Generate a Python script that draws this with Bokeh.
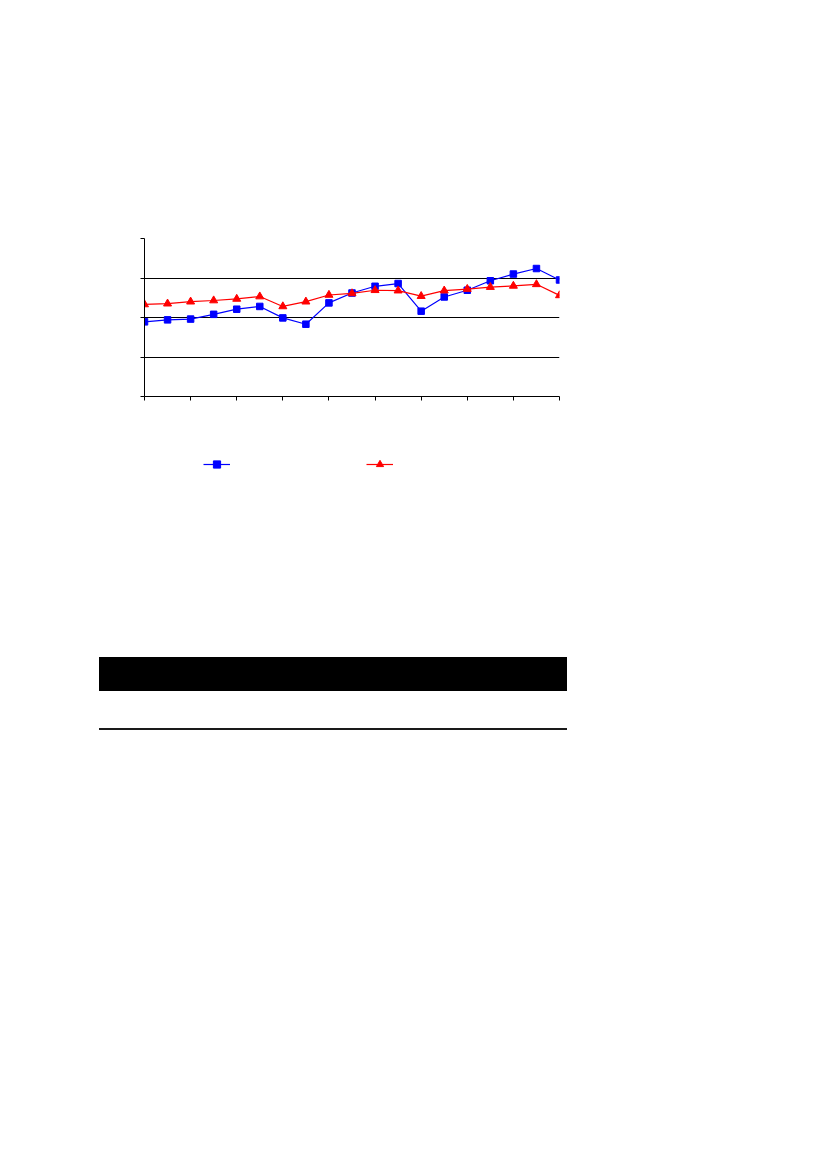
from bokeh.plotting import figure
from bokeh.models import FixedTicker, Legend, LegendItem, Div
from bokeh.layouts import column
from bokeh.embed import file_html
from bokeh.resources import INLINE

# ---- data ----
x_index = list(range(19))
series_blue = [1.89, 1.94, 1.96, 2.08, 2.21, 2.28, 1.99, 1.83, 2.37, 2.62,
               2.79, 2.86, 2.16, 2.52, 2.69, 2.93, 3.10, 3.24, 2.95]
series_red = [2.33, 2.35, 2.40, 2.43, 2.47, 2.53, 2.28, 2.40, 2.57, 2.61,
              2.69, 2.68, 2.54, 2.68, 2.72, 2.77, 2.80, 2.84, 2.56]
x_ticks = [0, 2, 4, 6, 8, 10, 12, 14, 16, 18]
y_ticks = [0, 1, 2, 3, 4]
grid_ticks = [1, 2, 3]

BLUE = "#0000FF"
RED = "#FF0000"

# ---- main chart ----
p = figure(width=609, height=416, output_backend="svg", toolbar_location=None,
           x_range=(0, 18), y_range=(0, 4),
           min_border_left=144, min_border_right=50,
           min_border_top=238, min_border_bottom=20)
p.outline_line_color = None
p.background_fill_color = "white"
p.border_fill_color = "white"

p.xgrid.visible = False
p.ygrid.ticker = FixedTicker(ticks=grid_ticks)
p.ygrid.grid_line_color = "black"
p.ygrid.grid_line_width = 1

for ax in (p.xaxis[0], p.yaxis[0]):
    ax.axis_line_color = "black"
    ax.axis_line_width = 1
    ax.major_tick_line_color = "black"
    ax.major_tick_line_width = 1
    ax.major_tick_in = 0
    ax.major_tick_out = 4
    ax.minor_tick_line_color = None
p.xaxis[0].ticker = FixedTicker(ticks=x_ticks)
p.yaxis[0].ticker = FixedTicker(ticks=y_ticks)
p.xaxis[0].major_label_overrides = {t: "" for t in x_ticks}
p.yaxis[0].major_label_overrides = {t: "" for t in y_ticks}

p.line(x_index, series_blue, line_color=BLUE, line_width=1.2)
p.scatter(x_index, series_blue, marker="square", size=6.5,
          fill_color=BLUE, line_color=BLUE)
p.line(x_index, series_red, line_color=RED, line_width=1.2)
p.scatter(x_index, series_red, marker="triangle", size=8,
          fill_color=RED, line_color=RED)

# ---- legend strip: same series drawn out of view, only their keys show ----
lg = figure(width=609, height=100, output_backend="svg", toolbar_location=None,
            x_range=(0, 1), y_range=(100, 101), x_axis_type=None, y_axis_type=None,
            min_border_left=0, min_border_right=0,
            min_border_top=0, min_border_bottom=0)
lg.outline_line_color = None
lg.xgrid.visible = False
lg.ygrid.visible = False
k_lb = lg.line(x_index, series_blue, line_color=BLUE, line_width=1.2)
k_mb = lg.scatter(x_index, series_blue, marker="square", size=6.5,
                  fill_color=BLUE, line_color=BLUE)
k_lr = lg.line(x_index, series_red, line_color=RED, line_width=1.2)
k_mr = lg.scatter(x_index, series_red, marker="triangle", size=8,
                  fill_color=RED, line_color=RED)

legend = Legend(items=[LegendItem(label=" ", renderers=[k_lb, k_mb]),
                       LegendItem(label=" ", renderers=[k_lr, k_mr])],
                orientation="horizontal", location=(59, 43),
                glyph_width=27, glyph_height=18, label_width=0,
                label_standoff=0, spacing=136, padding=0, margin=0,
                border_line_color=None, background_fill_alpha=0)
lg.add_layout(legend, "center")

# ---- table header bar and rule ----
bar = Div(text="", width=468, height=34, margin=(141, 0, 0, 99),
          styles={"background-color": "black"})
rule = Div(text="", width=468, height=2, margin=(37, 0, 0, 99),
           styles={"background-color": "#1a1a1a"})

layout = column(p, lg, bar, rule, spacing=0)

open("out.html", "w").write(file_html(layout, INLINE))
